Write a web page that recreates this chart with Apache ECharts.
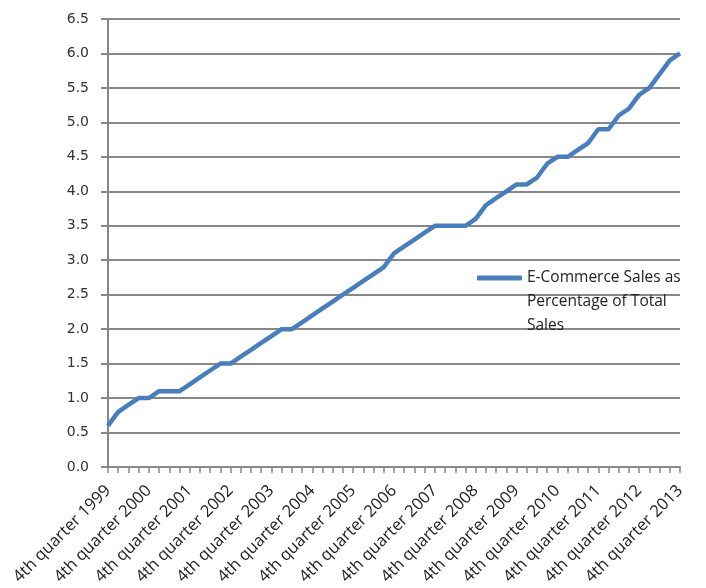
<!DOCTYPE html>
<html><head><meta charset="utf-8">
<script src="https://cdn.jsdelivr.net/npm/echarts@6/dist/echarts.min.js"></script>
<style>html,body{margin:0;padding:0;background:#fff}#c{width:706px;height:588px}</style>
</head><body><div id="c"></div>
<script>
const categories = [];
for (let y = 1999; y <= 2013; y++) {
  const qs = y === 1999 ? [4] : [1,2,3,4];
  for (const q of qs) categories.push((q===1?'1st':q===2?'2nd':q===3?'3rd':'4th') + ' quarter ' + y);
}
const ecommerceShare = [0.6,0.8,0.9,1.0,1.0,1.1,1.1,1.1,1.2,1.3,1.4,1.5,1.5,1.6,1.7,1.8,1.9,2.0,2.0,2.1,
  2.2,2.3,2.4,2.5,2.6,2.7,2.8,2.9,3.1,3.2,3.3,3.4,3.5,3.5,3.5,3.5,3.6,3.8,3.9,4.0,
  4.1,4.1,4.2,4.4,4.5,4.5,4.6,4.7,4.9,4.9,5.1,5.2,5.4,5.5,5.7,5.9,6.0];
const seriesName = 'E-Commerce Sales as Percentage of Total Sales';
const legendLines = ['E-Commerce Sales as','Percentage of Total','Sales'];

const chart = echarts.init(document.getElementById('c'), null, {renderer:'canvas'});
const gray = '#878787';
chart.setOption({
  animation:false,
  grid:{left:108, right:26, top:19, bottom:121, containLabel:false},
  legend:{
    left:472, top:213, orient:'vertical',
    itemWidth:45, itemHeight:5,
    data:[{name:seriesName, icon:'roundRect'}],
    formatter:()=>'\n\n' + legendLines.join('\n'),
    textStyle:{fontFamily:'Open Sans', fontSize:15.5, color:'#222', lineHeight:24},
    itemGap:0
  },
  xAxis:{
    type:'category', data:categories, boundaryGap:false,
    axisLine:{lineStyle:{color:gray, width:2}},
    axisTick:{show:true, interval:0, length:6, lineStyle:{color:gray, width:1.5}},
    axisLabel:{interval:3, rotate:45, fontFamily:'Open Sans', fontSize:16.5, color:'#222', margin:21},
    splitLine:{show:false}
  },
  yAxis:{
    type:'value', min:0, max:6.5, interval:0.5,
    axisLine:{show:true, lineStyle:{color:gray, width:2}},
    axisTick:{show:true, length:7, inside:false, lineStyle:{color:gray, width:2}},
    axisLabel:{formatter:v=>v.toFixed(1), fontFamily:'DejaVu Sans', fontSize:14, color:'#333', margin:19},
    splitLine:{show:true, lineStyle:{color:gray, width:2}}
  },
  series:[{
    name:seriesName, type:'line', data:ecommerceShare, showSymbol:false, symbol:'none',
    lineStyle:{color:'#4a7ebb', width:4.5}, itemStyle:{color:'#4a7ebb'}
  }]
});
</script></body></html>
